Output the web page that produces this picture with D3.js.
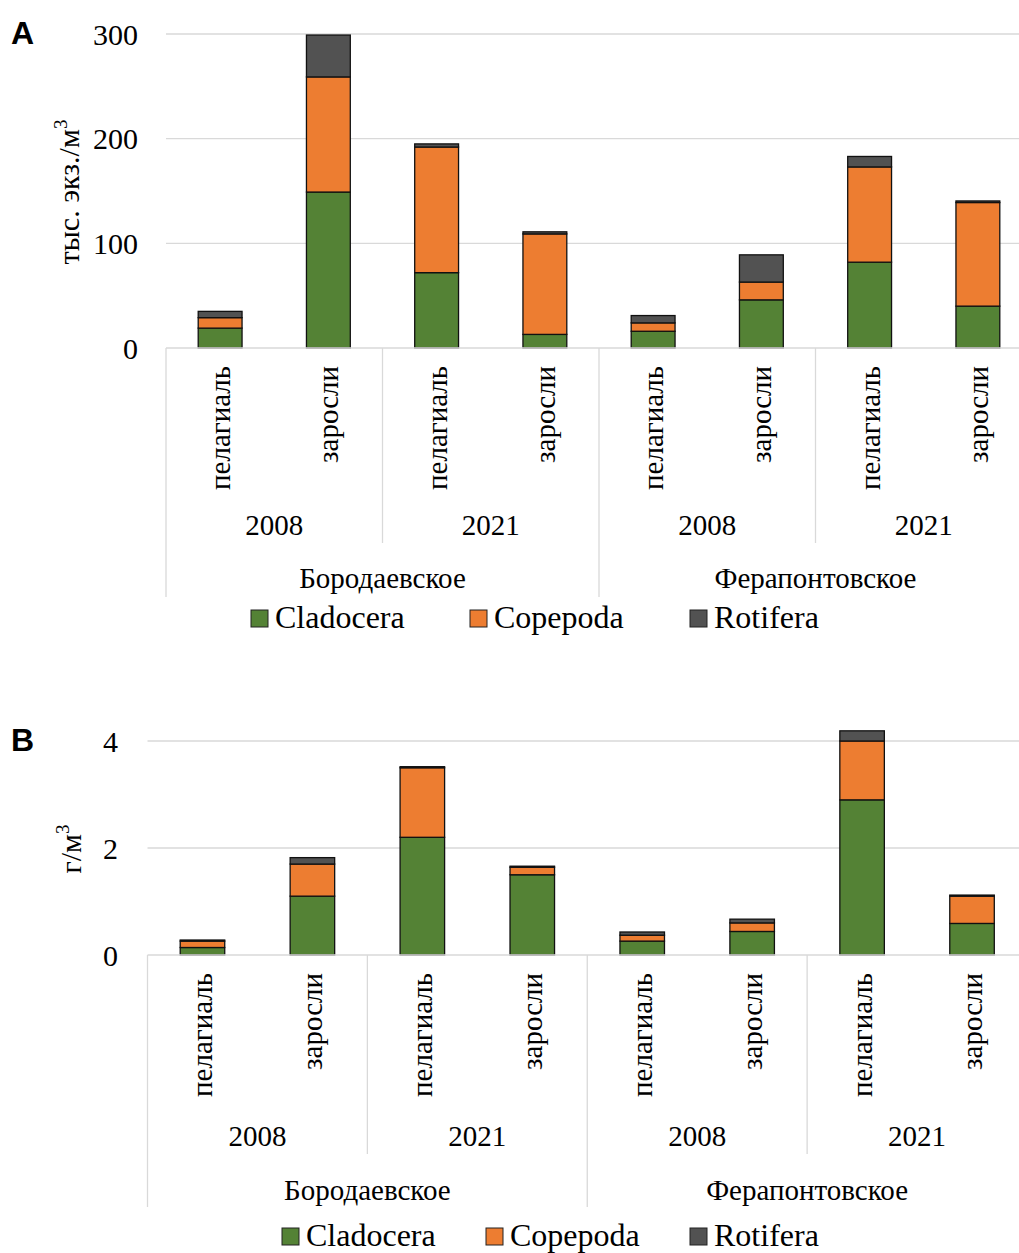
<!DOCTYPE html>
<html>
<head>
<meta charset="utf-8">
<script src="https://cdn.jsdelivr.net/npm/d3@7"></script>
<style>
  html, body { margin: 0; padding: 0; background: #fff; }
  svg { display: block; }
</style>
</head>
<body>
<div id="chart"></div>
<script>
const lakes = ['Бородаевское', 'Ферапонтовское'];
const years = ['2008', '2021'];
const habitats = ['пелагиаль', 'заросли'];
const seriesNames = ['Cladocera', 'Copepoda', 'Rotifera'];

// A: abundance, thousand ind./m3
const abundCladocera = [19, 149, 72, 13, 16, 46, 82, 40];
const abundCopepoda = [10, 110, 120, 96, 8, 17, 91, 99];
const abundRotifera = [6, 40, 3, 2, 7, 26, 10, 1.5];
const abundTicks = [0, 100, 200, 300];

// B: biomass, g/m3
const biomassCladocera = [0.14, 1.1, 2.2, 1.5, 0.26, 0.44, 2.9, 0.59];
const biomassCopepoda = [0.12, 0.6, 1.3, 0.14, 0.11, 0.16, 1.1, 0.51];
const biomassRotifera = [0.02, 0.12, 0.02, 0.02, 0.06, 0.07, 0.19, 0.02];
const biomassTicks = [0, 2, 4];

const colors = { Cladocera: '#548235', Copepoda: '#ED7D31', Rotifera: '#525252' };
const serif = '"Liberation Serif", "Times New Roman", serif';
const gridColor = '#d9d9d9';

const categories = lakes.flatMap((lake) => years.flatMap((year) => habitats.map((habitat) => ({ lake, year, habitat }))));

const svg = d3.select('#chart').append('svg').attr('width', 1019).attr('height', 1253);

function drawPanel(cfg) {
  const rows = categories.map((c, i) => ({
    i,
    Cladocera: cfg.values[0][i],
    Copepoda: cfg.values[1][i],
    Rotifera: cfg.values[2][i],
  }));
  const stacked = d3.stack().keys(seriesNames)(rows);

  const x = d3.scaleBand().domain(d3.range(categories.length)).range([cfg.left, cfg.right]).paddingInner(0).paddingOuter(0);
  const y = d3.scaleLinear().domain([0, d3.max(cfg.ticks)]).range([cfg.bottom, cfg.top]);
  const g = svg.append('g');

  // gridlines
  g.selectAll('.grid').data(cfg.ticks.filter((t) => t > 0)).join('line')
    .attr('x1', cfg.left).attr('x2', 1019)
    .attr('y1', (d) => y(d)).attr('y2', (d) => y(d))
    .attr('stroke', gridColor).attr('stroke-width', 1.3);

  // tick labels
  g.selectAll('.tick').data(cfg.ticks).join('text')
    .attr('x', cfg.tickX).attr('y', (d) => y(d)).attr('dy', '0.35em')
    .attr('text-anchor', 'end').attr('font-family', serif).attr('font-size', 30)
    .attr('fill', '#000').text((d) => d);

  // axis title
  const title = g.append('text')
    .attr('transform', `translate(${cfg.titleX},${cfg.titleY}) rotate(-90)`)
    .attr('text-anchor', 'middle').attr('font-family', serif).attr('font-size', 30).attr('fill', '#000');
  title.append('tspan').text(cfg.title);
  title.append('tspan').attr('font-size', 19).attr('dy', -12).text('3');

  // panel letter
  g.append('text').attr('x', 11).attr('y', cfg.letterY)
    .attr('font-family', '"Liberation Sans", Arial, sans-serif').attr('font-weight', 'bold')
    .attr('font-size', 32).text(cfg.letter);

  // bars
  const bw = x.bandwidth() * 0.405;
  g.selectAll('.layer').data(stacked).join('g')
    .attr('fill', (d) => colors[d.key])
    .selectAll('rect').data((d) => d).join('rect')
    .attr('x', (d) => x(d.data.i) + (x.bandwidth() - bw) / 2)
    .attr('width', bw)
    .attr('y', (d) => y(d[1]))
    .attr('height', (d) => y(d[0]) - y(d[1]))
    .attr('stroke', '#111').attr('stroke-width', 1.3);

  // axis baseline
  g.append('line').attr('x1', cfg.left).attr('x2', 1019)
    .attr('y1', cfg.bottom).attr('y2', cfg.bottom)
    .attr('stroke', gridColor).attr('stroke-width', 1.3);

  // multi-level axis separators
  const boundaries = d3.range(0, categories.length + 1, 2);
  g.selectAll('.sep').data(boundaries).join('line')
    .attr('x1', (d) => (d === categories.length ? cfg.right : x(d)))
    .attr('x2', (d) => (d === categories.length ? cfg.right : x(d)))
    .attr('y1', cfg.bottom)
    .attr('y2', (d) => (d % 4 === 0 ? cfg.lakeLineEnd : cfg.yearLineEnd))
    .attr('stroke', gridColor).attr('stroke-width', 1.3);

  // habitat labels (rotated)
  g.selectAll('.hab').data(categories).join('text')
    .attr('transform', (d, i) => `translate(${x(i) + x.bandwidth() / 2 + 10},${cfg.bottom + 18}) rotate(-90)`)
    .attr('text-anchor', 'end').attr('font-family', serif).attr('font-size', 29)
    .text((d) => d.habitat);

  // year labels
  const yearGroups = d3.range(0, categories.length, 2);
  g.selectAll('.year').data(yearGroups).join('text')
    .attr('x', (d) => x(d) + x.bandwidth())
    .attr('y', cfg.yearY).attr('text-anchor', 'middle')
    .attr('font-family', serif).attr('font-size', 29)
    .text((d) => categories[d].year);

  // lake labels
  const lakeGroups = d3.range(0, categories.length, 4);
  g.selectAll('.lake').data(lakeGroups).join('text')
    .attr('x', (d) => x(d) + x.bandwidth() * 2)
    .attr('y', cfg.lakeY).attr('text-anchor', 'middle')
    .attr('font-family', serif).attr('font-size', 29)
    .text((d) => categories[d].lake);

  // legend
  const leg = g.selectAll('.leg').data(seriesNames).join('g')
    .attr('transform', (d, i) => `translate(${cfg.legendX[i]},${cfg.legendY})`);
  leg.append('rect').attr('x', 0).attr('y', -17).attr('width', 17).attr('height', 17)
    .attr('fill', (d) => colors[d]).attr('stroke', '#222').attr('stroke-width', 1);
  leg.append('text').attr('x', 24).attr('y', 1)
    .attr('font-family', serif).attr('font-size', 32).text((d) => d);
}

drawPanel({
  values: [abundCladocera, abundCopepoda, abundRotifera],
  ticks: abundTicks,
  left: 166, right: 1032, top: 34, bottom: 348,
  tickX: 138, title: 'тыс. экз./м', titleX: 79, titleY: 192,
  letter: 'A', letterY: 44,
  yearY: 535, lakeY: 588, yearLineEnd: 543, lakeLineEnd: 597,
  legendX: [251, 470, 690], legendY: 627,
});

drawPanel({
  values: [biomassCladocera, biomassCopepoda, biomassRotifera],
  ticks: biomassTicks,
  left: 147.5, right: 1027, top: 741, bottom: 955,
  tickX: 118, title: 'г/м', titleX: 81, titleY: 849,
  letter: 'B', letterY: 751,
  yearY: 1146, lakeY: 1200, yearLineEnd: 1154, lakeLineEnd: 1207,
  legendX: [282, 486, 690], legendY: 1245,
});
</script>
</body>
</html>
